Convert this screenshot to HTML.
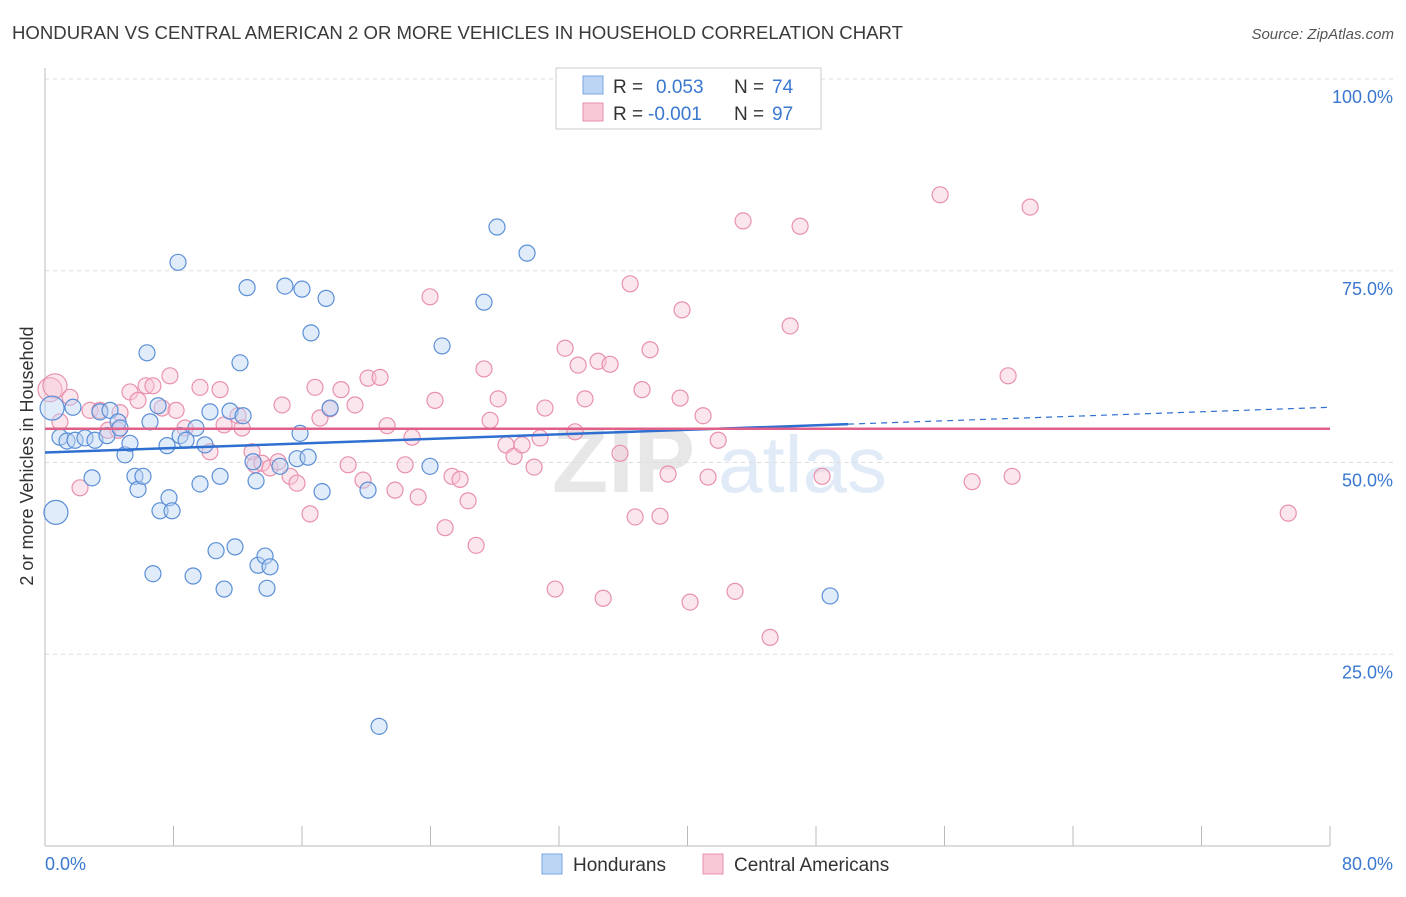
<!DOCTYPE html>
<html><head><meta charset="utf-8"><style>
body{margin:0;background:#fff;font-family:"Liberation Sans",sans-serif}
svg text{font-family:"Liberation Sans",sans-serif}
</style></head><body>
<svg id="chart" width="1406" height="892" xmlns="http://www.w3.org/2000/svg">
<text x="12" y="39" font-size="18" fill="#3a3a3a" textLength="891" lengthAdjust="spacingAndGlyphs">HONDURAN VS CENTRAL AMERICAN 2 OR MORE VEHICLES IN HOUSEHOLD CORRELATION CHART</text>
<text x="1394" y="39" font-size="15" fill="#555" text-anchor="end" font-style="italic">Source: ZipAtlas.com</text>
<text transform="translate(33,456) rotate(-90)" font-size="18" fill="#333" text-anchor="middle">2 or more Vehicles in Household</text>
<g opacity="0.35">
<text x="552" y="492" font-size="92" fill="#bbb" font-family="Liberation Serif" font-weight="bold">ZIP</text>
<text x="718" y="492" font-size="80" fill="#a8c8ea">atlas</text>
</g>
<g id="grid"></g><g id="axes"></g><g id="pts"></g><g id="trends"></g>
<g>
<rect x="556" y="68" width="265" height="61" fill="#fff" stroke="#ccc"/>
<rect x="583" y="76" width="20" height="18" fill="#bcd5f5" stroke="#7aa6e0"/>
<text x="613" y="93" font-size="19" fill="#333">R = </text><text x="656" y="93" font-size="19" fill="#3a78d0">0.053</text>
<text x="734" y="93" font-size="19" fill="#333">N = </text><text x="772" y="93" font-size="19" fill="#3a78d0">74</text>
<rect x="583" y="103" width="20" height="18" fill="#f9c8d6" stroke="#e891ad"/>
<text x="613" y="120" font-size="19" fill="#333">R = </text><text x="648" y="120" font-size="19" fill="#3a78d0">-0.001</text>
<text x="734" y="120" font-size="19" fill="#333">N = </text><text x="772" y="120" font-size="19" fill="#3a78d0">97</text>
</g>
<g>
<rect x="542" y="854" width="20" height="20" fill="#bcd5f5" stroke="#7aa6e0"/>
<text x="573" y="871" font-size="19" fill="#333">Hondurans</text>
<rect x="703" y="854" width="20" height="20" fill="#f9c8d6" stroke="#e891ad"/>
<text x="734" y="871" font-size="19" fill="#333">Central Americans</text>
</g>
</svg>
<script>
const xTicks=[0,10,20,30,40,50,60,70,80];
const yTicks=[25,50,75,100];
const blueX=[0.44,0.68,0.93,1.37,1.74,1.87,2.49,2.93,3.11,3.42,3.86,4.05,4.55,4.67,4.98,5.29,5.60,5.79,6.10,6.35,6.54,6.72,7.04,7.16,7.60,7.72,7.91,8.28,8.41,8.78,9.22,9.40,9.65,9.96,10.27,10.65,10.90,11.15,11.52,11.83,12.14,12.33,12.58,12.95,13.14,13.26,13.70,13.82,14.01,14.63,14.94,15.69,15.88,16.00,16.38,16.56,17.25,17.50,17.75,20.11,20.80,23.97,24.72,27.33,28.14,30.01,48.88];
const blueY=[57.1,43.5,53.3,52.8,57.2,52.9,53.2,48.0,52.9,56.6,53.5,56.8,55.3,54.5,51.0,52.5,48.2,46.5,48.2,64.3,55.3,35.5,57.4,43.7,52.2,45.4,43.7,76.1,53.5,52.9,35.2,54.5,47.2,52.3,56.6,38.5,48.2,33.5,56.7,39.0,63.0,56.1,72.8,50.1,47.6,36.6,37.8,33.6,36.4,49.5,73.0,50.5,53.8,72.6,50.7,66.9,46.2,71.4,57.1,46.4,15.6,49.5,65.2,70.9,80.7,77.3,32.6];
const pinkX=[0.31,0.62,0.93,1.56,2.18,2.80,3.42,3.92,4.55,4.67,5.29,5.79,6.29,6.72,7.29,7.78,8.16,8.72,9.65,10.27,10.90,11.15,12.02,12.27,12.89,13.08,13.51,14.01,14.76,14.51,15.26,15.69,16.50,16.81,17.12,17.75,18.43,18.87,19.30,19.80,20.11,20.86,21.30,21.79,22.42,22.85,23.23,23.97,24.28,24.91,25.34,25.84,26.34,26.84,27.33,27.71,28.21,28.70,29.20,29.70,30.45,30.82,31.13,31.76,32.38,33.00,33.19,33.62,34.43,34.75,35.18,35.80,36.43,36.74,37.17,37.67,38.29,38.79,39.54,39.66,40.16,40.97,41.28,41.91,42.96,43.46,45.14,46.39,47.01,48.38,55.73,57.72,59.96,60.21,61.33,77.40];
const pinkY=[59.5,60.0,55.3,58.5,46.7,56.8,56.8,54.2,54.2,56.5,59.2,58.1,60.0,60.0,57.1,61.3,56.8,54.5,59.8,51.4,59.5,54.9,56.1,54.5,51.4,49.7,49.9,49.3,57.5,50.1,48.2,47.3,43.3,59.8,55.8,57.0,59.5,49.7,57.5,47.7,61.0,61.1,54.8,46.4,49.7,53.3,45.5,71.6,58.1,41.5,48.2,47.8,45.0,39.2,62.2,55.5,58.3,52.3,50.8,52.3,49.4,53.2,57.1,33.5,64.9,54.0,62.7,58.3,63.2,32.3,62.8,51.2,73.3,42.9,59.5,64.7,43.0,48.5,58.4,69.9,31.8,56.1,48.1,52.9,33.2,81.5,27.2,67.8,80.8,48.2,84.9,47.5,61.3,48.2,83.3,43.4];
const blueTrend=[51.3,55.0,57.2];
const pinkTrend=[54.4,54.4];
const NS='http://www.w3.org/2000/svg';
const sx=v=>45+v/80*1285, sy=v=>846-v/100*767;
function mk(tag,attrs,parent){const e=document.createElementNS(NS,tag);for(const k in attrs)e.setAttribute(k,attrs[k]);parent.appendChild(e);return e;}
const grid=document.getElementById('grid'),axes=document.getElementById('axes'),pts=document.getElementById('pts'),tr=document.getElementById('trends');
yTicks.forEach(t=>{
 const l=mk('line',{x1:45,x2:1393,y1:sy(t),y2:sy(t),stroke:'#ddd','stroke-dasharray':'4,4'},grid);
 
 
 const tx=mk('text',{x:1393,y:sy(t)+24,'font-size':18,fill:'#3a78d0','text-anchor':'end'},axes);
 tx.textContent=t.toFixed(1)+'%';
 
 
});
const xa=mk('line',{x1:45,x2:1330,y1:846,y2:846,stroke:'#bbb'},axes);


const ya=mk('line',{x1:45,x2:45,y1:68,y2:846,stroke:'#bbb'},axes);


for(let i=0;i<=10;i++){const v=i*8;const t=mk('line',{x1:sx(v),x2:sx(v),y1:826,y2:846,stroke:'#bbb'},axes);
 
 }
[[0,'0.0%',45,'start'],[80,'80.0%',1393,'end']].forEach(a=>{const t=mk('text',{x:a[2],y:870,'font-size':18,fill:'#3a78d0','text-anchor':a[3]},axes);t.textContent=a[1];
 
 });
function dots(X,Y,fill,stroke,name){X.forEach((x,i)=>{const r=i<2&&x<1?12:8;const c=mk('circle',{cx:sx(x),cy:sy(Y[i]),r:r,fill:fill,'fill-opacity':0.45,stroke:stroke,'stroke-width':1.2},pts);
 
 });}
dots(pinkX,pinkY,'#f9c8d6','#e891ad','central-american-point');
dots(blueX,blueY,'#bcd5f5','#5b8fd6','honduran-point');
const b1=mk('line',{x1:sx(0),y1:sy(blueTrend[0]),x2:sx(50),y2:sy(blueTrend[1]),stroke:'#2f6fd0','stroke-width':2.5},tr);


const b2=mk('line',{x1:sx(50),y1:sy(blueTrend[1]),x2:sx(80),y2:sy(blueTrend[2]),stroke:'#2f6fd0','stroke-width':1.2,'stroke-dasharray':'6,5'},tr);


const p1=mk('line',{x1:sx(0),y1:sy(pinkTrend[0]),x2:sx(80),y2:sy(pinkTrend[1]),stroke:'#e0608a','stroke-width':2.5},tr);


</script>
</body></html>
